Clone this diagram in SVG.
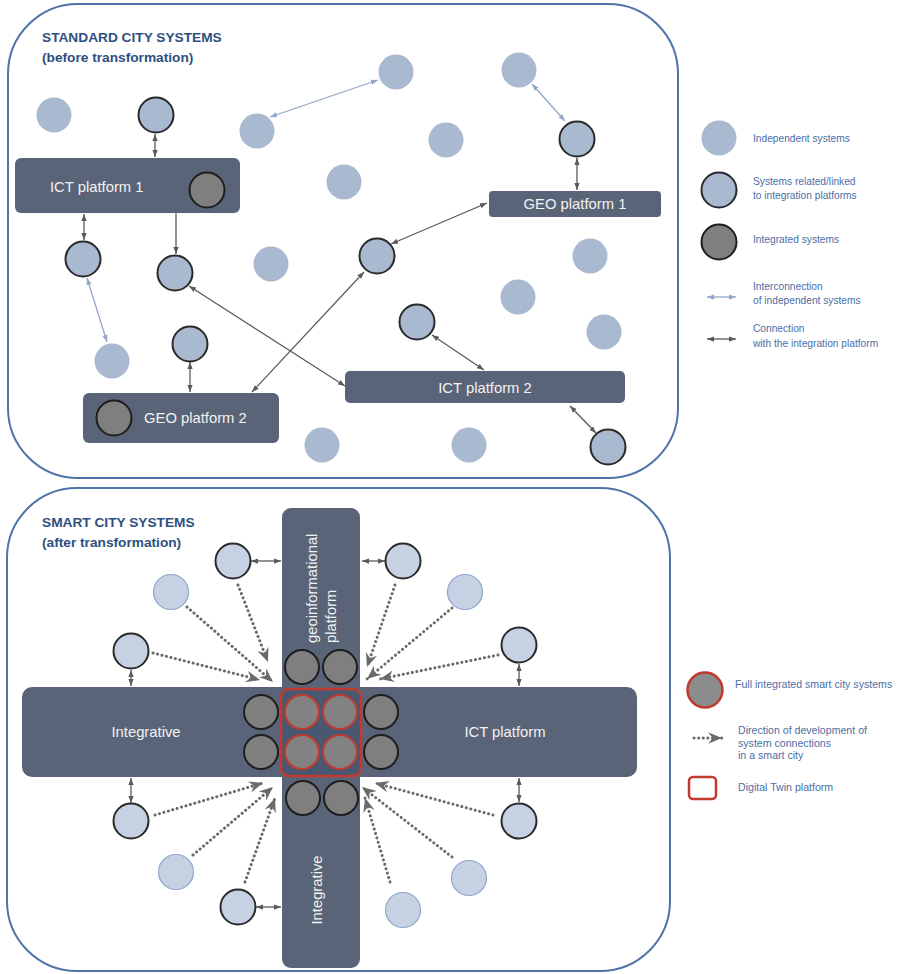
<svg xmlns="http://www.w3.org/2000/svg" width="897" height="974" viewBox="0 0 897 974">
<defs>
<style>
text{font-family:"Liberation Sans",Arial,sans-serif}
.panel{fill:#fff;stroke:#4f74a8;stroke-width:2}
.title{font-size:13.7px;font-weight:bold;fill:#2f4f80}
.plat{fill:#5a6478}
.ptxt{font-size:14.8px;fill:#f2f2f2}
.ind{fill:#a9b9d0}
.lnk{fill:#a9b9d0;stroke:#2a2a2a;stroke-width:2}
.intg{fill:#7f7f7f;stroke:#1e1e1e;stroke-width:2}
.ind2{fill:#c6d2e4;stroke:#8ea6c8;stroke-width:1.2}
.lnk2{fill:#c6d2e4;stroke:#2a2a2a;stroke-width:2}
.full{fill:#828282;stroke:#c23a2e;stroke-width:2}
.dk{stroke:#5a5a5a;stroke-width:1.3;fill:none;marker-end:url(#ad);marker-start:url(#ad)}
.dk1{stroke:#5a5a5a;stroke-width:1.3;fill:none;marker-end:url(#ad)}
.lt{stroke:#93a7cb;stroke-width:1.3;fill:none;marker-end:url(#al);marker-start:url(#al)}
.dot{stroke:#6a6a6a;stroke-width:3;fill:none;stroke-dasharray:0.1 4.5;stroke-linecap:round;marker-end:url(#av)}
.leg{font-size:10.2px;fill:#4c6ea5}
.leg2{font-size:10.6px;fill:#4c6ea5}
</style>
<marker id="ad" viewBox="0 0 8 6" refX="8" refY="3" markerWidth="7" markerHeight="5.5" markerUnits="userSpaceOnUse" orient="auto-start-reverse"><path d="M0,0 L8,3 L0,6 z" fill="#5a5a5a"/></marker>
<marker id="al" viewBox="0 0 8 6" refX="8" refY="3" markerWidth="7" markerHeight="5.5" markerUnits="userSpaceOnUse" orient="auto-start-reverse"><path d="M0,0 L8,3 L0,6 z" fill="#93a7cb"/></marker>
<marker id="av" viewBox="0 0 12 10" refX="12" refY="5" markerWidth="14" markerHeight="12" markerUnits="userSpaceOnUse" orient="auto"><path d="M0,0 L12,5 L0,10 L4,5 z" fill="#6a6a6a"/></marker>
</defs>

<rect x="0" y="0" width="897" height="974" fill="#fff"/>

<g id="panel-standard">
<rect class="panel" x="8" y="4" width="670" height="474" rx="70"/>
<text class="title" x="42" y="42">STANDARD CITY SYSTEMS</text>
<text class="title" x="42" y="62">(before transformation)</text>
</g>
<g id="panel-smart">
<rect class="panel" x="7" y="488" width="663" height="483" rx="70"/>
<text class="title" x="42" y="527">SMART CITY SYSTEMS</text>
<text class="title" x="42" y="547">(after transformation)</text>
</g>

<g id="connectors">
<line class="dk" x1="155" y1="134" x2="155" y2="157"/>
<line class="dk" x1="84" y1="214" x2="84" y2="240"/>
<line class="dk1" x1="176" y1="213" x2="176" y2="254"/>
<line class="dk" x1="189" y1="286" x2="345" y2="386"/>
<line class="dk" x1="252" y1="392" x2="364" y2="272"/>
<line class="dk" x1="391" y1="244" x2="487" y2="203"/>
<line class="dk" x1="577" y1="158" x2="577" y2="190"/>
<line class="dk" x1="190" y1="362" x2="190" y2="392"/>
<line class="dk" x1="432" y1="335" x2="484" y2="370"/>
<line class="dk" x1="570" y1="406" x2="596" y2="433"/>
<line class="lt" x1="270" y1="117" x2="378" y2="80"/>
<line class="lt" x1="87" y1="278" x2="107" y2="342"/>
<line class="lt" x1="532" y1="84" x2="565" y2="121"/>

<line class="dk" x1="251" y1="561" x2="281" y2="561"/>
<line class="dk" x1="362" y1="561" x2="385" y2="561"/>
<line class="dk" x1="131" y1="670" x2="131" y2="686"/>
<line class="dk" x1="519" y1="664" x2="519" y2="686"/>
<line class="dk" x1="131" y1="778" x2="131" y2="803"/>
<line class="dk" x1="519" y1="778" x2="519" y2="802"/>
<line class="dk" x1="256" y1="907" x2="281" y2="907"/>

<line class="dot" x1="153" y1="653" x2="260" y2="680"/>
<line class="dot" x1="187" y1="607" x2="273" y2="682"/>
<line class="dot" x1="238" y1="585" x2="268" y2="662"/>
<line class="dot" x1="395" y1="585" x2="367" y2="667"/>
<line class="dot" x1="452" y1="608" x2="367" y2="679"/>
<line class="dot" x1="498" y1="655" x2="380" y2="679"/>
<line class="dot" x1="155" y1="815" x2="263" y2="783"/>
<line class="dot" x1="193" y1="855" x2="273" y2="787"/>
<line class="dot" x1="245" y1="882" x2="275" y2="798"/>
<line class="dot" x1="493" y1="815" x2="375" y2="783"/>
<line class="dot" x1="452" y1="857" x2="362" y2="787"/>
<line class="dot" x1="390" y1="882" x2="365" y2="798"/>
</g>

<g id="ict-platform-1">
<rect class="plat" x="15" y="158" width="225" height="55" rx="6"/>
<text class="ptxt" x="50" y="192">ICT platform 1</text>
<circle class="intg" cx="207" cy="190" r="17.5"/>
</g>
<g id="geo-platform-1">
<rect class="plat" x="489" y="191" width="172" height="26" rx="4"/>
<text class="ptxt" x="575" y="209" text-anchor="middle">GEO platform 1</text>
</g>
<g id="geo-platform-2">
<rect class="plat" x="83" y="393" width="196" height="50" rx="6"/>
<circle class="intg" cx="114" cy="418" r="17.5"/>
<text class="ptxt" x="144" y="423">GEO platform 2</text>
</g>
<g id="ict-platform-2">
<rect class="plat" x="345" y="371" width="280" height="32" rx="5"/>
<text class="ptxt" x="485" y="393" text-anchor="middle">ICT platform 2</text>
</g>

<g id="independent-systems-top">
<circle class="ind" cx="54" cy="115" r="17.5"/>
<circle class="ind" cx="257" cy="131" r="17.5"/>
<circle class="ind" cx="396" cy="72" r="17.5"/>
<circle class="ind" cx="446" cy="140" r="17.5"/>
<circle class="ind" cx="344" cy="182" r="17.5"/>
<circle class="ind" cx="519" cy="70" r="17.5"/>
<circle class="ind" cx="271" cy="264" r="17.5"/>
<circle class="ind" cx="112" cy="361" r="17.5"/>
<circle class="ind" cx="322" cy="445" r="17.5"/>
<circle class="ind" cx="590" cy="256" r="17.5"/>
<circle class="ind" cx="518" cy="297" r="17.5"/>
<circle class="ind" cx="604" cy="332" r="17.5"/>
<circle class="ind" cx="469" cy="445" r="17.5"/>
</g>
<g id="linked-systems-top">
<circle class="lnk" cx="156" cy="115" r="17.5"/>
<circle class="lnk" cx="577" cy="139" r="17.5"/>
<circle class="lnk" cx="83" cy="259" r="17.5"/>
<circle class="lnk" cx="175" cy="273" r="17.5"/>
<circle class="lnk" cx="377" cy="256" r="17.5"/>
<circle class="lnk" cx="417" cy="322" r="17.5"/>
<circle class="lnk" cx="190" cy="344" r="17.5"/>
<circle class="lnk" cx="608" cy="447" r="17.5"/>
</g>

<g id="geoinformational-platform">
<rect class="plat" x="282" y="508" width="78" height="460" rx="9"/>
<text class="ptxt" font-size="15" transform="translate(317,643) rotate(-90)">geoinformational</text>
<text class="ptxt" font-size="15" transform="translate(336,643) rotate(-90)">platform</text>
<text class="ptxt" font-size="15" text-anchor="middle" transform="translate(322,890) rotate(-90)">Integrative</text>
</g>
<g id="integrative-ict-platform">
<rect class="plat" x="22" y="687" width="615" height="90" rx="10"/>
<text class="ptxt" font-size="15" x="146" y="737" text-anchor="middle">Integrative</text>
<text class="ptxt" font-size="15" x="505" y="737" text-anchor="middle">ICT platform</text>
</g>
<g id="digital-twin-platform">
<rect x="281" y="689" width="80" height="87" rx="8" fill="#4a5770" stroke="#c23a2e" stroke-width="2.5"/>
<circle class="full" cx="302" cy="712" r="17"/>
<circle class="full" cx="340" cy="712" r="17"/>
<circle class="full" cx="302" cy="752" r="17"/>
<circle class="full" cx="340" cy="752" r="17"/>
</g>
<g id="integrated-systems-center">
<circle class="intg" cx="302" cy="667" r="17"/>
<circle class="intg" cx="340" cy="667" r="17"/>
<circle class="intg" cx="261" cy="712" r="17"/>
<circle class="intg" cx="261" cy="752" r="17"/>
<circle class="intg" cx="381" cy="712" r="17"/>
<circle class="intg" cx="381" cy="752" r="17"/>
<circle class="intg" cx="303" cy="798" r="17"/>
<circle class="intg" cx="341" cy="798" r="17"/>
</g>
<g id="systems-smart">
<circle class="lnk2" cx="233" cy="561" r="17.5"/>
<circle class="ind2" cx="171" cy="592" r="17.5"/>
<circle class="lnk2" cx="131" cy="651" r="17.5"/>
<circle class="lnk2" cx="403" cy="561" r="17.5"/>
<circle class="ind2" cx="465" cy="592" r="17.5"/>
<circle class="lnk2" cx="519" cy="645" r="17.5"/>
<circle class="lnk2" cx="131" cy="821" r="17.5"/>
<circle class="ind2" cx="176" cy="872" r="17.5"/>
<circle class="lnk2" cx="238" cy="907" r="17.5"/>
<circle class="ind2" cx="403" cy="910" r="17.5"/>
<circle class="lnk2" cx="519" cy="821" r="17.5"/>
<circle class="ind2" cx="469" cy="878" r="17.5"/>
</g>

<g id="legend-standard">
<circle class="ind" cx="719" cy="138" r="17.5"/>
<text class="leg" x="753" y="142">Independent systems</text>
<circle class="lnk" cx="719" cy="190" r="17.5"/>
<text class="leg" x="753" y="185">Systems related/linked</text>
<text class="leg" x="753" y="199">to integration platforms</text>
<circle class="intg" cx="719" cy="242" r="17.5"/>
<text class="leg" x="753" y="243">Integrated systems</text>
<line class="lt" x1="707" y1="297" x2="736" y2="297"/>
<text class="leg" x="753" y="290">Interconnection</text>
<text class="leg" x="753" y="304">of independent systems</text>
<line class="dk" x1="707" y1="339" x2="736" y2="339"/>
<text class="leg" x="753" y="332">Connection</text>
<text class="leg" x="753" y="347">with the integration platform</text>
</g>
<g id="legend-smart">
<circle cx="705" cy="690" r="17.5" fill="#8c8c8c" stroke="#c23a2e" stroke-width="2.5"/>
<text class="leg2" x="735" y="688">Full integrated smart city systems</text>
<line class="dot" x1="694" y1="738" x2="722" y2="738"/>
<text class="leg2" x="738" y="734">Direction of development of</text>
<text class="leg2" x="738" y="747">system connections</text>
<text class="leg2" x="738" y="759">in a smart city</text>
<rect x="689" y="777" width="27" height="22" rx="4" fill="#fff" stroke="#c23a2e" stroke-width="2.5"/>
<text class="leg2" x="738" y="791">Digital Twin platform</text>
</g>
</svg>
